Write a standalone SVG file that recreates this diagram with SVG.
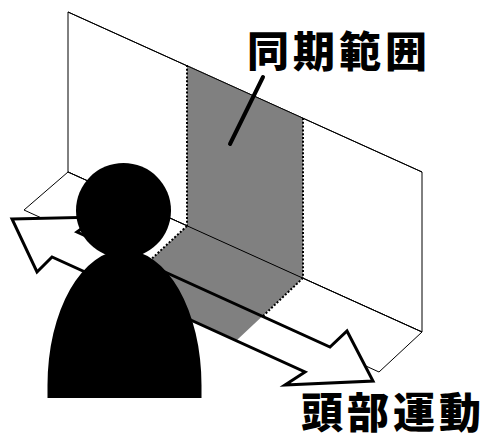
<svg xmlns="http://www.w3.org/2000/svg" width="488" height="441" viewBox="0 0 488 441">
  <style>
    .edge { fill: #fff; stroke: #000; stroke-width: 1; stroke-linejoin: miter; }
    .thin { fill: none; stroke: #000; stroke-width: 1; }
    .band { fill: #808080; stroke: none; }
    .dots { fill: none; stroke: #000; stroke-width: 2; stroke-dasharray: 2 1.8; }
    .arrow-fill { fill: #fff; stroke: none; }
    .arrow-line { fill: none; stroke: #000; stroke-width: 3; stroke-linejoin: miter; }
    .figure { fill: #000; stroke: none; }
    .label { font-family: "Noto Sans CJK JP", "Noto Sans CJK SC", sans-serif; font-weight: 900; font-size: 42px; fill: #000; }
    .leader { stroke: #000; stroke-width: 4; stroke-linecap: round; }
  </style>
  <rect width="488" height="441" fill="#fff"/>

  <!-- wall and floor -->
  <g id="wall">
    <polygon class="edge" points="68,12 422,172 422,332 68,172"/>
  </g>
  <g id="floor">
    <polygon class="edge" points="68,172 422,332 379,372 24,210"/>
  </g>

  <!-- white body of the double arrow, hides floor lines beneath it -->
  <g id="motion-arrow-base">
    <polygon class="arrow-fill" points="12,219 98,217 77,232 330,347 347,331 373,381 285,385 305,372 52,257 37,272"/>
  </g>

  <!-- shaded synchrony band on wall and floor -->
  <g id="sync-range">
    <polygon class="band" points="187,65 303,118 303,278 187,226"/>
    <polygon class="band" points="187,226 303,278 237,340 121,288"/>
    <line class="thin" x1="68" y1="12" x2="422" y2="172"/>
    <line class="thin" x1="68" y1="172" x2="422" y2="332"/>
    <line class="dots" x1="187" y1="65" x2="187" y2="226"/>
    <line class="dots" x1="303" y1="118" x2="303" y2="278"/>
    <line class="dots" x1="187" y1="226" x2="145" y2="265"/>
    <line class="dots" x1="303" y1="278" x2="263" y2="316"/>
  </g>

  <!-- connectors -->
  <g id="connectors">
    <polygon class="arrow-line" points="12,219 98,217 77,232 330,347 347,331 373,381 285,385 305,372 52,257 37,272"/>
    <line class="leader" x1="263" y1="77" x2="230" y2="144"/>
  </g>

  <!-- person silhouette -->
  <g id="person">
    <path class="figure" d="M47.5,398 L47.5,385 A77,135 0 0 1 201.5,385 L201.5,398 Z"/>
    <circle class="figure" cx="123.5" cy="210.5" r="47.5"/>
  </g>

  <!-- labels: each character placed on a fixed pitch -->
  <g id="label-sync">
    <text class="label" x="247 293 339 385" y="67">同期範囲</text>
  </g>
  <g id="label-motion">
    <text class="label" x="301 347 393 439" y="428">頭部運動</text>
  </g>
</svg>
